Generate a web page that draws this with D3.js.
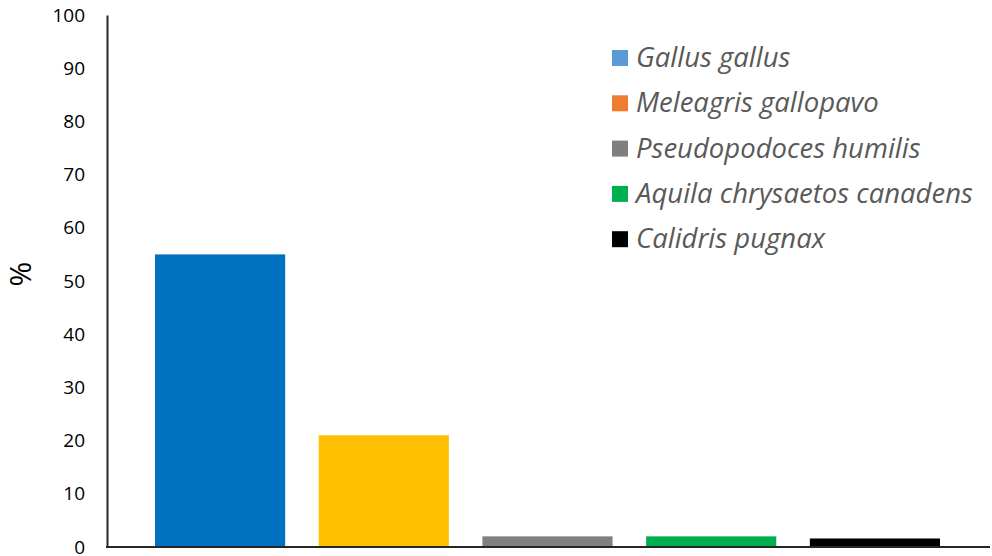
<!DOCTYPE html>
<html><head><meta charset="utf-8">
<script src="https://cdn.jsdelivr.net/npm/d3@7"></script>
<style>body{margin:0;background:#fff}</style>
</head><body><svg id="c" width="992" height="556"></svg>
<script>
const categories = ["Gallus gallus","Meleagris gallopavo","Pseudopodoces humilis","Aquila chrysaetos canadens","Calidris pugnax"];
const values = [55, 21, 2, 2, 1.6];
const barColors = ["#0070C0","#FFC000","#808080","#00B050","#000000"];
const legendColors = ["#5B9BD5","#ED7D31","#7F7F7F","#00B050","#000000"];
const yTicks = [0,10,20,30,40,50,60,70,80,90,100];

const svg = d3.select("#c");
const font = "'Open Sans', sans-serif";
const y = d3.scaleLinear().domain([0,100]).range([547,15]);
const x = d3.scaleBand().domain(categories).range([155,940]).paddingInner(0.205).paddingOuter(0);

svg.selectAll("rect.bar").data(categories).enter().append("rect")
  .attr("x", d => x(d)).attr("width", x.bandwidth())
  .attr("y", (d,i) => y(values[i])).attr("height", (d,i) => y(0) - y(values[i]))
  .attr("fill", (d,i) => barColors[i]);

const yAxis = svg.append("g").attr("transform","translate(107,0)")
  .call(d3.axisLeft(y).tickValues(yTicks).tickSize(0).tickPadding(22));
yAxis.select(".domain").attr("stroke","#262626").attr("stroke-width",2);
yAxis.selectAll("text").attr("font-family",font).attr("font-size",19).attr("fill","#000");

svg.append("line").attr("x1",106).attr("x2",990).attr("y1",y(0)).attr("y2",y(0))
  .attr("stroke","#262626").attr("stroke-width",2);

svg.append("text").attr("transform","translate(31,274) rotate(-90)")
  .attr("text-anchor","middle").attr("font-family",font).attr("font-size",30).attr("fill","#000").text("%");

const lg = svg.append("g");
categories.forEach((c,i) => {
  const cy = 58 + i*45.3;
  lg.append("rect").attr("x",612).attr("y",cy-8).attr("width",16).attr("height",16).attr("fill",legendColors[i]);
  lg.append("text").attr("x",636).attr("y",cy+9).attr("font-family",font).attr("font-style","italic")
    .attr("font-size",27.5).attr("fill","#595959").text(c);
});
</script></body></html>
